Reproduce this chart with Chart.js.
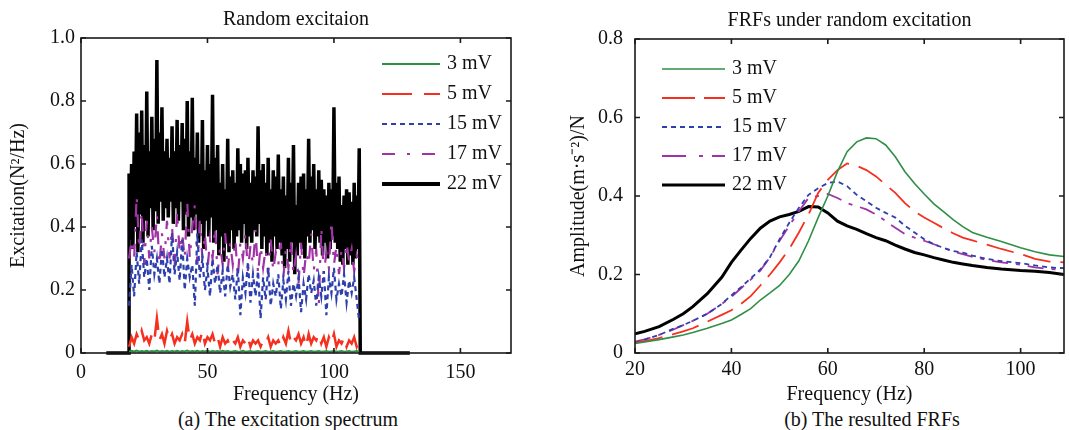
<!DOCTYPE html>
<html>
<head>
<meta charset="utf-8">
<script src="https://cdn.jsdelivr.net/npm/chart.js@4.4.0/dist/chart.umd.min.js"></script>
<style>
  body { margin: 0; background: #fff; width: 1069px; height: 430px; position: relative; overflow: hidden; font-family: "Liberation Serif", serif; color: #111; }
  canvas { position: absolute; top: 0; }
  #excCanvas { left: 0; }
  #frfCanvas { left: 540px; }
  .caption { position: absolute; top: 407px; font-size: 20px; line-height: 24px; transform: translateX(-50%); white-space: nowrap; }
</style>
</head>
<body>
<canvas id="excCanvas" width="540" height="407"></canvas>
<canvas id="frfCanvas" width="529" height="407"></canvas>
<div class="caption" style="left:288px">(a) The excitation spectrum</div>
<div class="caption" style="left:872px">(b) The resulted FRFs</div>
<script>
// ---- (a) excitation spectrum, 1 Hz bins from 19 to 110 Hz ----
const excHz = Array.from({length: 92}, (_, i) => 19 + i);
const excTicksX = [0, 50, 100, 150];
const excTicksY = [0, 0.2, 0.4, 0.6, 0.8, 1.0];
// 22 mV trace sits on zero outside the band
const excZeroLeftHz = [10, 19];
const excZeroRightHz = [110.4, 130];

const exc3 = [
  0.004,0.007,0.005,0.008,0.004,0.006,0.005,0.007,0.004,0.006,
  0.005,0.008,0.004,0.006,0.005,0.007,0.004,0.006,0.005,0.007,
  0.004,0.006,0.005,0.008,0.004,0.006,0.005,0.007,0.004,0.006,
  0.005,0.007,0.004,0.006,0.005,0.006,0.004,0.007,0.005,0.006,
  0.004,0.005,0.006,0.004,0.005,0.007,0.004,0.005,0.006,0.004,
  0.005,0.006,0.004,0.005,0.006,0.004,0.005,0.006,0.004,0.005,
  0.006,0.004,0.005,0.006,0.004,0.005,0.006,0.004,0.005,0.006,
  0.004,0.005,0.006,0.004,0.005,0.006,0.004,0.005,0.006,0.004,
  0.005,0.006,0.004,0.005,0.006,0.004,0.005,0.006,0.004,0.005,
  0.006,0.004
];
const exc5 = [
  0.02,0.05,0.03,0.06,0.04,0.07,0.04,0.05,0.03,0.06,
  0.04,0.11,0.04,0.06,0.03,0.07,0.04,0.06,0.03,0.05,
  0.04,0.06,0.03,0.10,0.04,0.06,0.03,0.05,0.04,0.07,
  0.03,0.05,0.04,0.06,0.03,0.05,0.02,0.05,0.03,0.04,
  0.02,0.04,0.03,0.05,0.02,0.04,0.03,0.05,0.02,0.04,
  0.03,0.04,0.02,0.04,0.03,0.05,0.02,0.04,0.03,0.04,
  0.02,0.05,0.03,0.07,0.03,0.05,0.04,0.06,0.03,0.05,
  0.02,0.06,0.03,0.05,0.04,0.06,0.03,0.05,0.02,0.05,
  0.03,0.06,0.02,0.04,0.03,0.05,0.02,0.04,0.03,0.05,
  0.02,0.04
];
const exc15 = [
  0.15,0.28,0.18,0.32,0.22,0.36,0.24,0.30,0.20,0.34,
  0.25,0.30,0.22,0.33,0.24,0.30,0.22,0.38,0.25,0.32,
  0.23,0.36,0.20,0.30,0.24,0.28,0.15,0.38,0.24,0.30,
  0.20,0.27,0.18,0.30,0.22,0.28,0.19,0.26,0.18,0.28,
  0.21,0.25,0.17,0.27,0.12,0.24,0.19,0.29,0.16,0.25,
  0.18,0.26,0.11,0.24,0.17,0.27,0.15,0.22,0.18,0.25,
  0.14,0.23,0.17,0.26,0.15,0.22,0.18,0.24,0.13,0.22,
  0.17,0.25,0.19,0.23,0.15,0.24,0.18,0.26,0.12,0.24,
  0.19,0.27,0.17,0.22,0.18,0.25,0.16,0.23,0.19,0.24,
  0.17,0.10
];
const exc17 = [
  0.30,0.36,0.30,0.50,0.33,0.45,0.28,0.42,0.30,0.40,
  0.32,0.44,0.28,0.38,0.30,0.42,0.30,0.40,0.27,0.45,
  0.32,0.38,0.30,0.48,0.30,0.40,0.47,0.28,0.42,0.30,
  0.38,0.26,0.36,0.30,0.40,0.25,0.34,0.28,0.38,0.26,
  0.35,0.28,0.36,0.24,0.35,0.30,0.38,0.26,0.34,0.28,
  0.39,0.25,0.34,0.27,0.33,0.25,0.36,0.26,0.32,0.28,
  0.35,0.24,0.33,0.27,0.36,0.25,0.31,0.22,0.35,0.24,
  0.32,0.28,0.38,0.26,0.33,0.15,0.40,0.25,0.32,0.27,
  0.42,0.28,0.34,0.25,0.33,0.27,0.35,0.29,0.33,0.26,
  0.31,0.28
];
// 22 mV: spike tops at whole Hz, dips in between at half Hz
const exc22Peak = [
  0.57,0.60,0.64,0.76,0.70,0.77,0.66,0.83,0.64,0.75,
  0.68,0.93,0.70,0.78,0.64,0.68,0.62,0.72,0.64,0.74,
  0.66,0.73,0.68,0.80,0.64,0.81,0.62,0.70,0.60,0.74,
  0.58,0.66,0.60,0.82,0.62,0.66,0.54,0.60,0.52,0.68,
  0.56,0.58,0.54,0.65,0.60,0.57,0.58,0.62,0.54,0.58,
  0.56,0.72,0.58,0.60,0.54,0.62,0.52,0.58,0.56,0.63,
  0.52,0.56,0.50,0.62,0.54,0.66,0.47,0.54,0.56,0.57,
  0.52,0.68,0.56,0.60,0.52,0.58,0.55,0.52,0.50,0.54,
  0.52,0.78,0.54,0.56,0.47,0.50,0.52,0.51,0.48,0.54,
  0.50,0.65
];
const exc22Dip = [
  0.36,0.33,0.40,0.32,0.44,0.35,0.42,0.37,0.46,0.39,
  0.45,0.41,0.48,0.42,0.46,0.43,0.48,0.41,0.46,0.42,
  0.48,0.39,0.44,0.37,0.43,0.39,0.44,0.35,0.41,0.33,
  0.42,0.37,0.43,0.35,0.39,0.31,0.37,0.29,0.35,0.32,
  0.39,0.33,0.37,0.39,0.35,0.41,0.33,0.37,0.35,0.39,
  0.37,0.41,0.33,0.37,0.31,0.35,0.29,0.37,0.33,0.35,
  0.31,0.27,0.33,0.29,0.35,0.25,0.31,0.35,0.33,0.30,
  0.37,0.35,0.39,0.33,0.37,0.35,0.31,0.35,0.30,0.33,
  0.37,0.35,0.33,0.29,0.28,0.33,0.28,0.31,0.28,0.30,
  0.33
];

// ---- (b) FRFs ----
const frfHz = [20,22,25,28,30,32,35,38,40,42,44,46,48,50,52,54,56,58,60,62,
               64,66,68,70,72,74,76,78,80,82,84,86,88,90,93,96,100,103,106,109];
const frfTicksX = [20, 40, 60, 80, 100];
const frfTicksY = [0, 0.2, 0.4, 0.6, 0.8];
const frf3 = [0.024,0.028,0.034,0.041,0.046,0.052,0.063,0.075,0.084,0.098,0.113,0.135,0.153,0.172,0.200,0.235,0.286,0.345,0.400,0.462,
              0.513,0.538,0.548,0.546,0.530,0.500,0.462,0.432,0.405,0.380,0.360,0.340,0.322,0.307,0.295,0.284,0.268,0.258,0.250,0.246];
const frf5 = [0.026,0.030,0.038,0.048,0.055,0.063,0.080,0.097,0.109,0.125,0.145,0.172,0.200,0.231,0.265,0.307,0.353,0.408,0.441,0.466,
              0.483,0.477,0.466,0.450,0.429,0.408,0.382,0.361,0.345,0.332,0.318,0.305,0.294,0.287,0.276,0.265,0.252,0.240,0.233,0.231];
const frf15 = [0.027,0.034,0.046,0.062,0.071,0.082,0.100,0.125,0.147,0.168,0.190,0.213,0.244,0.290,0.332,0.370,0.403,0.420,0.433,0.437,
               0.425,0.403,0.387,0.370,0.357,0.345,0.324,0.307,0.290,0.277,0.268,0.260,0.256,0.248,0.240,0.234,0.229,0.223,0.218,0.216];
const frf17 = [0.029,0.035,0.046,0.060,0.071,0.082,0.100,0.125,0.143,0.165,0.187,0.210,0.244,0.286,0.324,0.361,0.395,0.400,0.405,0.395,
               0.382,0.374,0.366,0.353,0.336,0.319,0.303,0.294,0.286,0.277,0.268,0.258,0.252,0.245,0.237,0.231,0.225,0.218,0.214,0.212];
const frf22 = [0.049,0.055,0.067,0.086,0.100,0.118,0.151,0.193,0.231,0.262,0.292,0.318,0.336,0.347,0.353,0.361,0.373,0.372,0.357,0.336,
               0.324,0.315,0.304,0.294,0.286,0.275,0.265,0.256,0.250,0.243,0.237,0.231,0.227,0.223,0.218,0.214,0.210,0.208,0.205,0.200];

const seriesLabels = ['3 mV', '5 mV', '15 mV', '17 mV', '22 mV'];
const GREEN = '#2f8f46', RED = '#f5301e', BLUE = '#2e3fae', PURPLE = '#a033a5', BLACK = '#000';

Chart.defaults.font.family = '"Liberation Serif", "Times New Roman", serif';
Chart.defaults.font.size = 20;
Chart.defaults.color = '#111';

const pts = (xs, ys) => xs.map((x, i) => ({x: x, y: ys[i]}));
const fmt1 = v => v === 0 ? '0' : v.toFixed(1);

// box around the plot with inward ticks, matlab style
const frameTicks = {
  id: 'frameTicks',
  afterDatasetsDraw(chart) {
    const {ctx, chartArea: a, scales: {x, y}} = chart;
    ctx.save();
    ctx.strokeStyle = '#1a1a1a';
    ctx.lineWidth = 1.6;
    ctx.strokeRect(a.left, a.top, a.width, a.height);
    ctx.beginPath();
    x.ticks.forEach(t => {
      const px = x.getPixelForValue(t.value);
      ctx.moveTo(px, a.bottom); ctx.lineTo(px, a.bottom - 5);
      ctx.moveTo(px, a.top); ctx.lineTo(px, a.top + 5);
    });
    y.ticks.forEach(t => {
      const py = y.getPixelForValue(t.value);
      ctx.moveTo(a.left, py); ctx.lineTo(a.left + 5, py);
      ctx.moveTo(a.right, py); ctx.lineTo(a.right - 5, py);
    });
    ctx.stroke();
    ctx.restore();
  }
};

// legend drawn with dashed line samples inside the plot
const lineKey = {
  id: 'lineKey',
  afterDatasetsDraw(chart, args, opts) {
    const {ctx, chartArea: a} = chart;
    const x0 = opts.fromRight ? a.right + opts.x : a.left + opts.x;
    ctx.save();
    ctx.font = '20px "Liberation Serif"';
    ctx.textBaseline = 'middle';
    ctx.fillStyle = '#111';
    chart.data.datasets.forEach((ds, i) => {
      const y = a.top + opts.y + i * opts.step;
      ctx.beginPath();
      ctx.strokeStyle = ds.borderColor;
      ctx.lineWidth = ds.keyWidth || ds.borderWidth;
      ctx.setLineDash(ds.keyDash || ds.borderDash || []);
      ctx.moveTo(x0, y);
      ctx.lineTo(x0 + opts.len, y);
      ctx.stroke();
      ctx.setLineDash([]);
      ctx.fillText(ds.label, x0 + opts.len + opts.gap, y);
    });
    ctx.restore();
  }
};

const blackBand = [];
exc22Peak.forEach((v, i) => {
  blackBand.push({x: excHz[i], y: v});
  if (i < exc22Dip.length) blackBand.push({x: excHz[i] + 0.5, y: exc22Dip[i]});
});
const blackExc = pts(excZeroLeftHz, [0, 0]).concat(blackBand, pts(excZeroRightHz, [0, 0]));

new Chart('excCanvas', {
  type: 'line',
  data: {
    datasets: [
      {label: seriesLabels[0], data: pts(excHz, exc3), borderColor: GREEN, borderWidth: 2, keyWidth: 2},
      {label: seriesLabels[1], data: pts(excHz, exc5), borderColor: RED, borderWidth: 2.5, borderDash: [30, 12], keyWidth: 2},
      {label: seriesLabels[2], data: pts(excHz, exc15), borderColor: BLUE, borderWidth: 2.2, borderDash: [5, 4], keyWidth: 2},
      {label: seriesLabels[3], data: pts(excHz, exc17), borderColor: PURPLE, borderWidth: 2.2, borderDash: [13, 12, 3, 12], keyWidth: 2},
      {label: seriesLabels[4], data: blackExc, borderColor: BLACK, borderWidth: 3.5, keyWidth: 4, clip: false}
    ]
  },
  options: {
    responsive: false,
    animation: false,
    layout: {padding: {right: 29}},
    elements: {point: {radius: 0}, line: {tension: 0}},
    plugins: {
      legend: {display: false},
      tooltip: {enabled: false},
      title: {display: true, text: 'Random excitaion', fullSize: false,
              padding: {top: 8, bottom: 6}, font: {size: 20, weight: 'normal'}},
      lineKey: {fromRight: true, x: -129, y: 26, step: 30, len: 58, gap: 7}
    },
    scales: {
      x: {
        type: 'linear', min: 0, max: 170,
        grid: {display: false, drawTicks: false}, border: {display: false},
        afterBuildTicks: s => { s.ticks = excTicksX.map(v => ({value: v})); },
        afterFit: s => { s.height = 54; },
        ticks: {padding: 8, maxRotation: 0, autoSkip: false},
        title: {display: true, text: 'Frequency (Hz)', padding: {top: 0, bottom: 0}}
      },
      y: {
        min: 0, max: 1,
        grid: {display: false, drawTicks: false}, border: {display: false},
        afterBuildTicks: s => { s.ticks = excTicksY.map(v => ({value: v})); },
        afterFit: s => { s.width = 81; },
        ticks: {padding: 6, callback: fmt1},
        title: {display: true, text: 'Excitation(N²/Hz)', padding: {top: 7, bottom: 0}}
      }
    }
  },
  plugins: [frameTicks, lineKey]
});

new Chart('frfCanvas', {
  type: 'line',
  data: {
    datasets: [
      {label: seriesLabels[0], data: pts(frfHz, frf3), borderColor: GREEN, borderWidth: 1.6},
      {label: seriesLabels[1], data: pts(frfHz, frf5), borderColor: RED, borderWidth: 1.8, borderDash: [28, 10], keyDash: [33, 9]},
      {label: seriesLabels[2], data: pts(frfHz, frf15), borderColor: BLUE, borderWidth: 1.8, borderDash: [5, 4]},
      {label: seriesLabels[3], data: pts(frfHz, frf17), borderColor: PURPLE, borderWidth: 1.8, borderDash: [16, 8, 4, 8], keyDash: [24, 13, 4, 9]},
      {label: seriesLabels[4], data: pts(frfHz, frf22), borderColor: BLACK, borderWidth: 3}
    ]
  },
  options: {
    responsive: false,
    animation: false,
    layout: {padding: {right: 5}},
    elements: {point: {radius: 0}, line: {tension: 0}},
    plugins: {
      legend: {display: false},
      tooltip: {enabled: false},
      title: {display: true, text: 'FRFs under random excitation', fullSize: false,
              padding: {top: 9, bottom: 6}, font: {size: 20, weight: 'normal'}},
      lineKey: {fromRight: false, x: 27, y: 30, step: 29, len: 63, gap: 7}
    },
    scales: {
      x: {
        type: 'linear', min: 20, max: 109,
        grid: {display: false, drawTicks: false}, border: {display: false},
        afterBuildTicks: s => { s.ticks = frfTicksX.map(v => ({value: v})); },
        afterFit: s => { s.height = 54; },
        ticks: {padding: 5, maxRotation: 0, autoSkip: false},
        title: {display: true, text: 'Frequency (Hz)', padding: {top: 0, bottom: 0}}
      },
      y: {
        min: 0, max: 0.8,
        grid: {display: false, drawTicks: false}, border: {display: false},
        afterBuildTicks: s => { s.ticks = frfTicksY.map(v => ({value: v})); },
        afterFit: s => { s.width = 95; },
        ticks: {padding: 12, callback: fmt1},
        title: {display: true, text: 'Amplitude(m·s⁻²)/N', padding: {top: 27, bottom: 0}}
      }
    }
  },
  plugins: [frameTicks, lineKey]
});
</script>
</body>
</html>
